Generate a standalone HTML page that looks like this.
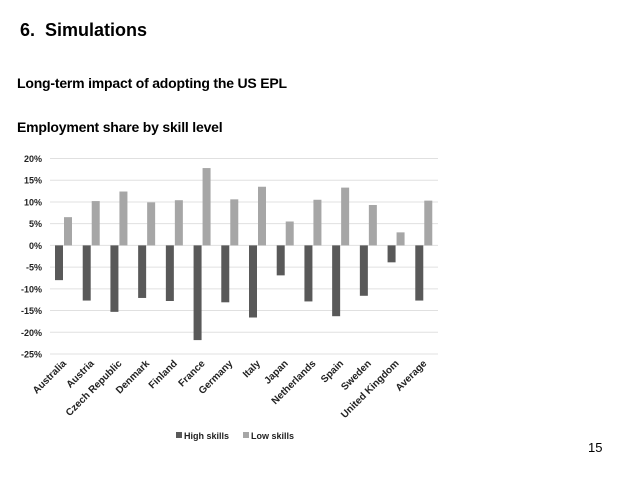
<!DOCTYPE html>
<html><head><meta charset="utf-8"><style>
body{margin:0;width:638px;height:479px;background:#fff;font-family:"Liberation Sans",sans-serif;overflow:hidden;position:relative}
.t{position:absolute;font-weight:bold;color:#000;white-space:nowrap}
</style></head><body>
<div class="t" style="left:20px;top:20px;font-size:18px">6.&nbsp; Simulations</div>
<div class="t" style="left:17px;top:75px;font-size:14px;letter-spacing:-0.2px">Long-term impact of adopting the US EPL</div>
<div class="t" style="left:17px;top:119px;font-size:14px;letter-spacing:-0.2px">Employment share by skill level</div>
<div class="t" style="left:588px;top:440px;font-size:13px;font-weight:normal">15</div>
<svg id="c" width="638" height="479" style="position:absolute;left:0;top:0"></svg>
<script>
const categories=["Australia","Austria","Czech Republic","Denmark","Finland","France","Germany","Italy","Japan","Netherlands","Spain","Sweden","United Kingdom","Average"];
const highSkills=[-8,-12.7,-15.3,-12.1,-12.8,-21.8,-13.1,-16.6,-6.9,-12.9,-16.3,-11.6,-3.9,-12.7];
const lowSkills=[6.5,10.2,12.4,9.9,10.4,17.8,10.6,13.5,5.5,10.5,13.3,9.3,3.0,10.3];
const ticks=[20,15,10,5,0,-5,-10,-15,-20,-25];
const svg=document.getElementById('c');const NS='http://www.w3.org/2000/svg';
const x0=50,x1=438,yTop=158.5,yBot=354;
const y=v=>yTop+(20-v)/45*(yBot-yTop);
const cw=(x1-x0)/categories.length;
function mk(t,a){const e=document.createElementNS(NS,t);for(const k in a)e.setAttribute(k,a[k]);svg.appendChild(e);return e;}
ticks.forEach(t=>{
 const g=mk('line',{x1:x0,x2:x1,y1:y(t),y2:y(t),stroke:'#e0e0e0','stroke-width':1});
 
 
 const l=mk('text',{x:42,y:y(t)+3.5,'text-anchor':'end','font-size':9,'font-weight':'bold',fill:'#222'});
 l.textContent=t+'%';
 
 
});
categories.forEach((c,i)=>{
 const gx=x0+i*cw;
 const b1=mk('rect',{x:gx+5,y:Math.min(y(0),y(highSkills[i])),width:8,height:Math.abs(y(highSkills[i])-y(0)),fill:'#595959'});
 
 
 const b2=mk('rect',{x:gx+14,y:Math.min(y(0),y(lowSkills[i])),width:8,height:Math.abs(y(lowSkills[i])-y(0)),fill:'#a6a6a6'});
 
 
 const cx=gx+cw/2+3,cy=364;
 const l=mk('text',{x:cx,y:cy,'text-anchor':'end','font-size':10,'font-weight':'bold',fill:'#222',transform:`rotate(-45 ${cx} ${cy})`});
 l.textContent=c;
 
 
});
const lg=[['High skills','#595959',176],['Low skills','#a6a6a6',243]];
lg.forEach(([n,col,lx])=>{
 const r=mk('rect',{x:lx,y:432,width:6,height:6,fill:col});
 
 
 const t=mk('text',{x:lx+8,y:439,'font-size':9,'font-weight':'bold',fill:'#222'});
 t.textContent=n;
 
 
});
</script>
</body></html>
